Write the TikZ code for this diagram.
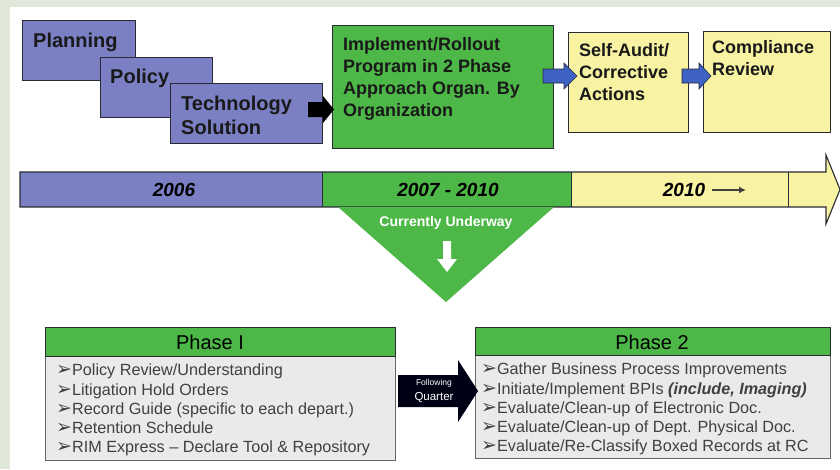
\documentclass[tikz,border=0pt]{standalone}
\usepackage{fontspec}
\usetikzlibrary{arrows.meta}
\setmainfont{Liberation Sans}
\newfontfamily\dvfont{DejaVu Sans}
\definecolor{bgc}{HTML}{E0E9D9}
\definecolor{bluec}{HTML}{7B80C5}
\definecolor{greenc}{HTML}{4DB848}
\definecolor{yellowc}{HTML}{F7F3A3}
\definecolor{greyc}{HTML}{EAEAEA}
\definecolor{bordc}{HTML}{2A2A35}
\definecolor{arrblue}{HTML}{3E62C4}
\newcommand{\bul}{{\dvfont\fontsize{19}{15}\selectfont ➢}}
\begin{document}
\begin{tikzpicture}[x=1pt,y=-1pt,
  boxbase/.style={draw=bordc, line width=1.1pt, anchor=north west, inner sep=0pt},
  bluebox/.style={boxbase, fill=bluec},
  greenbox/.style={boxbase, fill=greenc},
  yellowbox/.style={boxbase, fill=yellowc},
  greybox/.style={boxbase, fill=greyc, draw=black!60},
  toptxt/.style={anchor=north west, align=left, inner sep=0pt, text=black!90, font=\bfseries\fontsize{20}{24}\selectfont},
  midtxt/.style={anchor=north west, align=left, inner sep=0pt, text=black!90, font=\bfseries\fontsize{18}{22}\selectfont},
  yeartxt/.style={inner sep=0pt, font=\bfseries\itshape\fontsize{19}{19}\selectfont},
  listtxt/.style={anchor=north west, align=left, inner sep=0pt, text=black!75, font=\fontsize{16.2}{19.1}\selectfont},
  headtxt/.style={inner sep=0pt, font=\fontsize{20}{20}\selectfont},
  blockarr/.style={fill=arrblue, draw=bordc, line width=0.6pt}
]
\useasboundingbox (0,0) rectangle (840,469);
\fill[bgc] (0,0) rectangle (840,469);
\fill[white] (10,7) rectangle (840,469);

% top boxes
\node[bluebox, minimum width=113, minimum height=60] (plan) at (22,20) {};
\node[toptxt] (plant) at (33,33) {Planning};
\node[bluebox, minimum width=112, minimum height=60] (pol) at (100,57) {};
\node[toptxt] (polt) at (110,69) {Policy};
\node[bluebox, minimum width=152, minimum height=60] (tech) at (170,83) {};
\node[toptxt] (techt) at (181,96) {Technology\\Solution};

\node[greenbox, minimum width=221, minimum height=123] (impl) at (332,25) {};
\node[midtxt] (implt) at (343,37) {Implement/Rollout\\Program in 2 Phase\\Approach Organ. By\\Organization};

\node[yellowbox, minimum width=120, minimum height=100] (audit) at (568,32) {};
\node[midtxt] (auditt) at (579,43) {Self-Audit/\\Corrective\\Actions};
\node[yellowbox, minimum width=127, minimum height=101] (comp) at (703,31) {};
\node[midtxt] (compt) at (712,40) {Compliance\\Review};

% connectors top
\fill[black] (308,102) -- (323,102) -- (323,96) -- (334,109.5) -- (323,123) -- (323,117) -- (308,117) -- cycle;
\draw[blockarr] (543,69) -- (564,69) -- (564,63) -- (577,76) -- (564,89) -- (564,83) -- (543,83) -- cycle;
\draw[blockarr] (682,69) -- (699,69) -- (699,63) -- (711,76) -- (699,89) -- (699,83) -- (682,83) -- cycle;

% timeline
\fill[bluec] (20,172) rectangle (322,207);
\fill[greenc] (322,172) rectangle (571,207);
\fill[yellowc] (571,172) rectangle (826,207);
\fill[yellowc] (825,172) -- (826,155) -- (840,189.5) -- (826,224) -- (826,207) -- cycle;
\draw[bordc, line width=1.1pt] (20,172) -- (826,172) -- (826,155) -- (840,189.5) -- (826,224) -- (826,207) -- (20,207) -- cycle;
\draw[bordc, line width=0.8pt] (322,172) -- (322,207) (571,172) -- (571,207) (788,172) -- (788,207);
\node[yeartxt] (y1) at (174,190) {2006};
\node[yeartxt] (y2) at (448,190) {2007 - 2010};
\node[yeartxt] (y3) at (684,190) {2010};
\coordinate (ya) at (712,190);
\coordinate (yb) at (746,190);
\draw[black!75, line width=2pt, -{Latex[length=7pt,width=7pt]}] (ya) -- (yb);

% triangle
\fill[greenc] (338,207) -- (554,207) -- (446,302) -- cycle;
\node[inner sep=0pt, text=white, font=\bfseries\fontsize{14}{14}\selectfont] (cu) at (446,223) {Currently Underway};
\fill[white] (443,241) -- (451,241) -- (451,259) -- (457,259) -- (447,272) -- (437,259) -- (443,259) -- cycle;

% phase boxes
\node[greybox, minimum width=350, minimum height=133] (p1) at (45,327) {};
\node[greenbox, minimum width=350, minimum height=29] (p1h) at (45,327) {};
\node[headtxt] (p1ht) at (210,342) {Phase I};
\node[listtxt] (p1l) at (56,364) {\bul Policy Review/Understanding\\\bul Litigation Hold Orders\\\bul Record Guide (specific to each depart.)\\\bul Retention Schedule\\\bul RIM Express -- Declare Tool \& Repository};

\node[greybox, minimum width=355, minimum height=131] (p2) at (475,327) {};
\node[greenbox, minimum width=355, minimum height=28] (p2h) at (475,327) {};
\node[headtxt] (p2ht) at (652,342) {Phase 2};
\node[listtxt] (p2l) at (481,363) {\bul Gather Business Process Improvements\\\bul Initiate/Implement BPIs \textbf{\textit{(include, Imaging)}}\\\bul Evaluate/Clean-up of Electronic Doc.\\\bul Evaluate/Clean-up of Dept. Physical Doc.\\\bul Evaluate/Re-Classify Boxed Records at RC};

% following quarter arrow
\fill[black!92!blue] (398,375) -- (458,375) -- (458,360) -- (478,391) -- (458,422) -- (458,407) -- (398,407) -- cycle;
\node[inner sep=0pt, text=white, font=\fontsize{8.5}{8.5}\selectfont] (fq1) at (434,383) {Following};
\node[inner sep=0pt, text=white, font=\fontsize{11.5}{11.5}\selectfont] (fq2) at (434,398) {Quarter};
\end{tikzpicture}
\end{document}
